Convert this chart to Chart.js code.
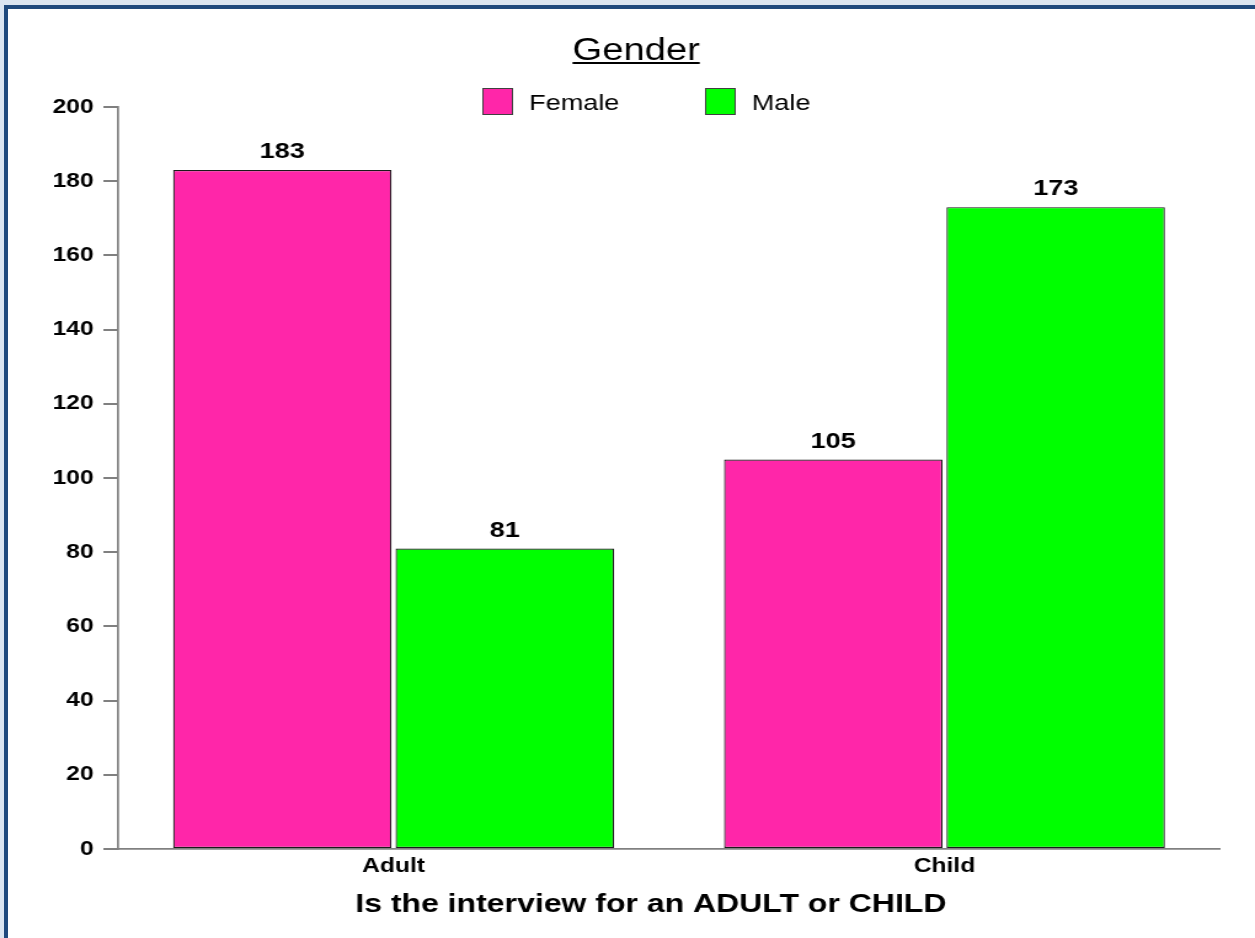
<!DOCTYPE html>
<html>
<head>
<meta charset="utf-8">
<title>Gender</title>
<script src="https://cdn.jsdelivr.net/npm/chart.js@4.4.1/dist/chart.umd.min.js"></script>
<style>
  html, body { margin: 0; padding: 0; width: 1255px; height: 938px; overflow: hidden; background: #dbe5f1; }
  #panel { position: absolute; left: 4px; top: 5px; width: 1300px; height: 1000px;
           border: 4px solid #1f497d; background: #ffffff; box-sizing: border-box; }
  /* the chart is laid out on a narrower canvas and widened to the page */
  #stage { position: absolute; left: 0; top: 0; width: 1020px; height: 938px;
           transform: scaleX(1.2304); transform-origin: 0 0; }
</style>
</head>
<body>
<div id="panel"></div>
<div id="stage"><canvas id="chart"></canvas></div>
<script>
// ---- data ----
const categories = ['Adult', 'Child'];
const seriesNames = ['Female', 'Male'];
const femaleCounts = [183, 105];
const maleCounts = [81, 173];
const yTickValues = [0, 20, 40, 60, 80, 100, 120, 140, 160, 180, 200];

const chartTitle = 'Gender';
const xAxisTitle = 'Is the interview for an ADULT or CHILD';

const FONT = "'Liberation Sans', Arial, Helvetica, sans-serif";
const seriesColors = ['#ff26a9', '#00ff00'];

// underlined title, legend row and axis caption
const headerPlugin = {
  id: 'header',
  afterDraw(chart) {
    const ctx = chart.ctx;
    ctx.save();
    // title
    ctx.font = `31px ${FONT}`;
    ctx.fillStyle = '#000';
    ctx.textAlign = 'center';
    ctx.textBaseline = 'alphabetic';
    const tx = 517, ty = 60;
    ctx.fillText(chartTitle, tx, ty);
    const w = ctx.measureText(chartTitle).width;
    ctx.fillRect(tx - w / 2, ty + 2, w, 2);

    // x axis caption
    ctx.font = `bold 26px ${FONT}`;
    ctx.fillText(xAxisTitle, 529, 912);

    // legend
    ctx.font = `22px ${FONT}`;
    ctx.textAlign = 'left';
    const startX = 392, step = 181, boxW = 25, boxH = 27, boxTop = 88;
    chart.data.datasets.forEach((ds, i) => {
      const x = startX + i * step;
      ctx.fillStyle = ds.backgroundColor;
      ctx.fillRect(x, boxTop, boxW, boxH);
      ctx.strokeStyle = '#404040';
      ctx.lineWidth = 1;
      ctx.strokeRect(x + 0.5, boxTop + 0.5, boxW - 1, boxH - 1);
      ctx.fillStyle = '#000';
      ctx.fillText(ds.label, x + boxW + 13, 110);
    });
    ctx.restore();
  }
};

// value printed above each bar
const valueLabelPlugin = {
  id: 'valueLabels',
  afterDatasetsDraw(chart) {
    const ctx = chart.ctx;
    ctx.save();
    ctx.font = `bold 22px ${FONT}`;
    ctx.fillStyle = '#000';
    ctx.textAlign = 'center';
    ctx.textBaseline = 'middle';
    chart.data.datasets.forEach((ds, i) => {
      chart.getDatasetMeta(i).data.forEach((bar, j) => {
        ctx.fillText(String(ds.data[j]), bar.x, bar.y - 18);
      });
    });
    ctx.restore();
  }
};

new Chart(document.getElementById('chart'), {
  type: 'bar',
  data: {
    labels: categories,
    datasets: [
      { label: seriesNames[0], data: femaleCounts, backgroundColor: seriesColors[0],
        borderColor: '#1a1a1a', borderWidth: 1.2, borderSkipped: false },
      { label: seriesNames[1], data: maleCounts, backgroundColor: seriesColors[1],
        borderColor: '#1a1a1a', borderWidth: 1.2, borderSkipped: false }
    ]
  },
  options: {
    responsive: true,
    maintainAspectRatio: false,
    animation: false,
    events: [],
    layout: { padding: { top: 107, right: 28.5, bottom: 0, left: 0 } },
    datasets: { bar: { categoryPercentage: 0.8076, barPercentage: 0.982 } },
    plugins: {
      legend: { display: false },
      title: { display: false },
      tooltip: { enabled: false }
    },
    scales: {
      x: {
        grid: { display: false, drawTicks: false },
        border: { display: true, color: '#808080', width: 1.7 },
        ticks: { color: '#000', padding: 5, font: { family: FONT, size: 20, weight: 'bold' } },
        afterFit(scale) { scale.height = 89; }
      },
      y: {
        min: 0, max: 200,
        afterBuildTicks(scale) { scale.ticks = yTickValues.map(v => ({ value: v })); },
        grid: { drawOnChartArea: false, drawTicks: true, tickLength: 12, color: '#808080', lineWidth: 2 },
        border: { display: true, color: '#808080', width: 1.7 },
        ticks: { color: '#000', padding: 8, font: { family: FONT, size: 20, weight: 'bold' } },
        afterFit(scale) { scale.width = 96; }
      }
    }
  },
  plugins: [headerPlugin, valueLabelPlugin]
});
</script>
</body>
</html>
